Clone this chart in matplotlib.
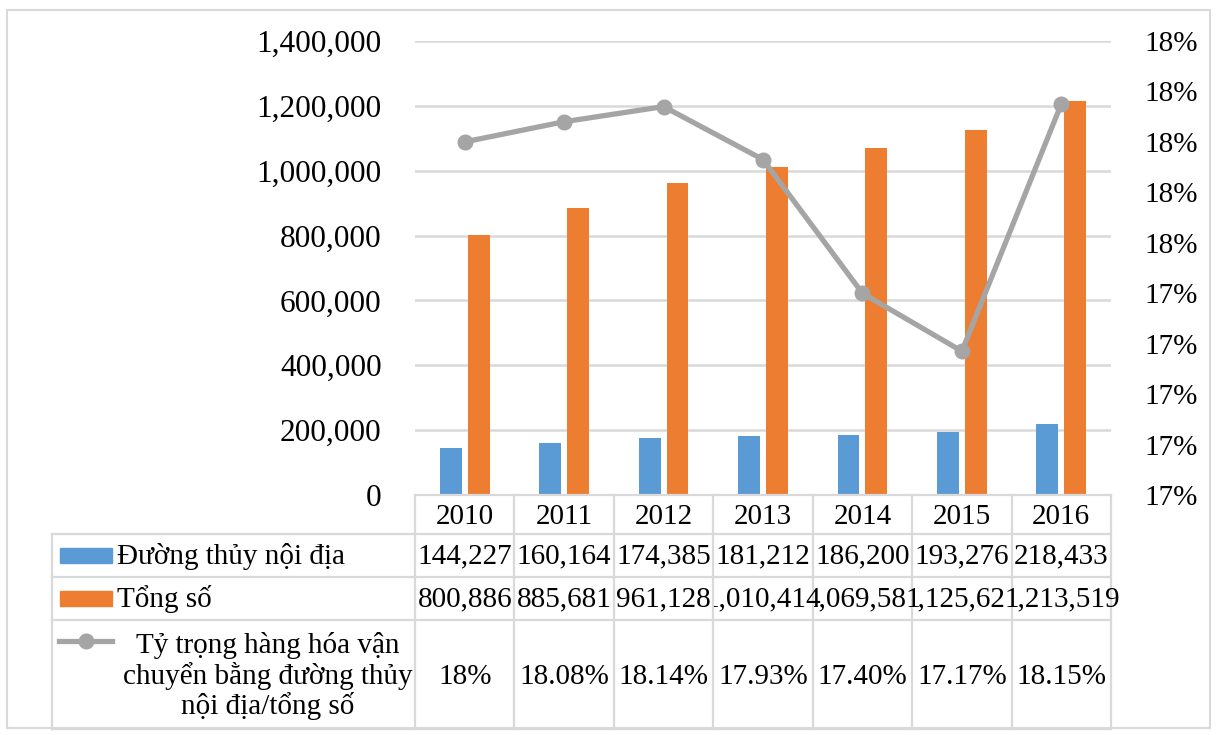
import matplotlib.pyplot as plt
import numpy as np
from matplotlib.lines import Line2D
from matplotlib.patches import Rectangle
from matplotlib.ticker import FuncFormatter, MultipleLocator
from matplotlib.transforms import Bbox

plt.rcParams["font.family"] = ["Liberation Serif", "DejaVu Serif"]

years = ["2010", "2011", "2012", "2013", "2014", "2015", "2016"]
duong_thuy = [144227, 160164, 174385, 181212, 186200, 193276, 218433]
tong_so = [800886, 885681, 961128, 1010414, 1069581, 1125621, 1213519]
ty_trong = [18.00, 18.08, 18.14, 17.93, 17.40, 17.17, 18.15]
ty_trong_labels = ["18%", "18.08%", "18.14%", "17.93%", "17.40%", "17.17%", "18.15%"]

series_names = [
    "Đường thủy nội địa",
    "Tổng số",
    "Tỷ trọng hàng hóa vận\nchuyển bằng đường thủy\nnội địa/tổng số",
]

BLUE = "#5B9BD5"
ORANGE = "#ED7D31"
GRAY = "#A5A5A5"
GRID = "#D9D9D9"

W, H = 1217, 735
fig = plt.figure(figsize=(W / 100, H / 100), dpi=100)


def fx(px):
    return px / W


def fy(py):
    return 1 - py / H


# plot area
left, right, top, bottom = 415, 1111, 41, 495
ax = fig.add_axes([fx(left), fy(bottom), fx(right - left), fy(top) - fy(bottom)])
x = np.arange(len(years))
ax.bar(x - 0.14, duong_thuy, width=0.22, color=BLUE, zorder=2)
ax.bar(x + 0.14, tong_so, width=0.22, color=ORANGE, zorder=2)
ax.set_xlim(-0.5, len(years) - 0.5)
ax.set_ylim(0, 1400000)
ax.yaxis.set_major_locator(MultipleLocator(200000))
ax.yaxis.set_major_formatter(FuncFormatter(lambda v, p: f"{v:,.0f}"))
ax.grid(axis="y", color=GRID, linewidth=1.8, zorder=0)
ax.set_xticks([])
ax.tick_params(axis="y", length=0, labelsize=22.5, pad=24)
for s in ax.spines.values():
    s.set_visible(False)

ax2 = ax.twinx()
ax2.plot(x, ty_trong, color=GRAY, linewidth=3.8, marker="o", markersize=10.5, zorder=3)
ax2.set_ylim(16.6, 18.4)
ax2.yaxis.set_major_locator(MultipleLocator(0.2))
ax2.yaxis.set_major_formatter(FuncFormatter(lambda v, p: f"{v:.0f}%"))
ax2.tick_params(axis="y", length=0, labelsize=21, pad=24)
for s in ax2.spines.values():
    s.set_visible(False)

# data table
tbl_left = 52
rows = [495, 534, 577, 620, 729]
col_w = (right - left) / len(years)
cols = [left + i * col_w for i in range(len(years) + 1)]
lc = dict(color=GRID, linewidth=1.6)

fig.add_artist(Line2D([fx(left), fx(right)], [fy(rows[0])] * 2, **lc))
for r in rows[1:]:
    fig.add_artist(Line2D([fx(tbl_left), fx(right)], [fy(r)] * 2, **lc))
fig.add_artist(Line2D([fx(tbl_left)] * 2, [fy(rows[1]), fy(rows[-1])], **lc))
for c in cols:
    fig.add_artist(Line2D([fx(c)] * 2, [fy(rows[0]), fy(rows[-1])], **lc))

tsize = 21
for i, yr in enumerate(years):
    cx = fx(cols[i] + col_w / 2)
    fig.text(cx, fy((rows[0] + rows[1]) / 2 + 2), yr, ha="center", va="center", fontsize=tsize)
    fig.text(cx, fy((rows[1] + rows[2]) / 2 + 1), f"{duong_thuy[i]:,}", ha="center", va="center", fontsize=tsize)
    # long totals spill over the cell, as in the spreadsheet table
    t = fig.text(cx, fy((rows[2] + rows[3]) / 2 + 1), f"{tong_so[i]:,}", ha="center", va="center", fontsize=tsize)
    t.set_clip_box(Bbox.from_extents(cols[i] + 1, 0, cols[i + 1] + 8, H))
    fig.text(cx, fy((rows[3] + rows[4]) / 2 + 2), ty_trong_labels[i], ha="center", va="center", fontsize=tsize)

# legend keys inside table
fig.add_artist(Rectangle((fx(60), fy(563)), fx(52), fy(548) - fy(563), color=BLUE, transform=fig.transFigure))
fig.add_artist(Rectangle((fx(60), fy(606)), fx(52), fy(591) - fy(606), color=ORANGE, transform=fig.transFigure))
fig.add_artist(Line2D([fx(59), fx(112)], [fy(641)] * 2, color=GRAY, linewidth=3.8))
fig.add_artist(Line2D([fx(86)], [fy(641)], color=GRAY, marker="o", markersize=10.5))

fig.text(fx(117), fy(556), series_names[0], ha="left", va="center", fontsize=tsize)
fig.text(fx(117), fy(599), series_names[1], ha="left", va="center", fontsize=tsize)
fig.text(fx(268), fy(676), series_names[2], ha="center", va="center", fontsize=tsize,
         multialignment="center", linespacing=1.12)

# outer chart border
fig.add_artist(Rectangle((fx(7), fy(728)), fx(1203), fy(10) - fy(728), fill=False,
                         edgecolor=GRID, linewidth=1.5, transform=fig.transFigure))

fig.savefig("out.png", dpi=100)
